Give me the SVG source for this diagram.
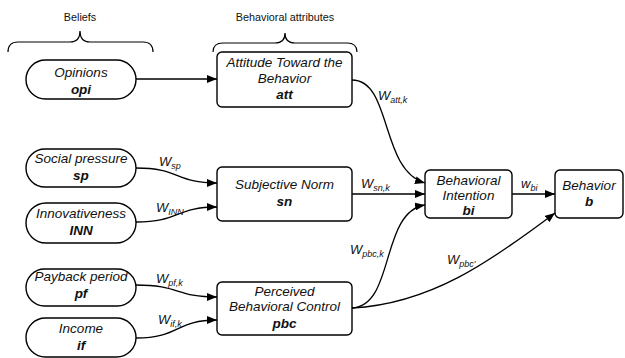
<svg xmlns="http://www.w3.org/2000/svg" width="625" height="358" viewBox="0 0 625 358">
<defs>
<marker id="ah" markerWidth="10" markerHeight="8" refX="10" refY="4" orient="auto" markerUnits="userSpaceOnUse">
<path d="M0,0 L10,4 L0,8 Z" fill="#000"/>
</marker>
<style>
.n{fill:#fff;stroke:#000;stroke-width:1.4}
.t{font-family:"Liberation Sans",Arial,sans-serif;font-size:13.5px;font-style:italic;text-anchor:middle;fill:#111}
.b{font-weight:bold}
.h{font-family:"Liberation Sans",Arial,sans-serif;font-size:10.8px;text-anchor:middle;fill:#111}
.c{fill:none;stroke:#000;stroke-width:1.3;marker-end:url(#ah)}
.br{fill:none;stroke:#000;stroke-width:1.2}
.w{font-family:"Liberation Sans",Arial,sans-serif;font-size:13px;font-style:italic;fill:#111}
.s{font-size:9px}
</style>
</defs>
<rect width="625" height="358" fill="#fff"/>
<g id="headers">
<text class="h" x="80" y="21">Beliefs</text>
<path class="br" d="M8,52 Q8,42 18,42 L70,42 Q80,42 80,31 Q80,42 90,42 L143,42 Q153,42 153,52"/>
<text class="h" x="285" y="21">Behavioral attributes</text>
<path class="br" d="M213,52 Q213,43 223,43 L275,43 Q285,43 285,33 Q285,43 295,43 L347,43 Q357,43 357,52"/>
</g>
<g id="opi">
<rect class="n" x="26" y="60" width="110" height="39" rx="19.5"/>
<text class="t" x="81" y="77">Opinions</text>
<text class="t b" x="81" y="94">opi</text>
</g>
<g id="sp">
<rect class="n" x="26" y="149" width="110" height="38" rx="19"/>
<text class="t" x="81" y="163">Social pressure</text>
<text class="t b" x="81" y="180">sp</text>
</g>
<g id="INN">
<rect class="n" x="26" y="203" width="110" height="40" rx="20"/>
<text class="t" x="81" y="218">Innovativeness</text>
<text class="t b" x="81" y="235">INN</text>
</g>
<g id="pf">
<rect class="n" x="26" y="269" width="110" height="37" rx="18.5"/>
<text class="t" x="81" y="281">Payback period</text>
<text class="t b" x="81" y="298">pf</text>
</g>
<g id="if">
<rect class="n" x="26" y="318" width="110" height="39" rx="19.5"/>
<text class="t" x="81" y="333">Income</text>
<text class="t b" x="81" y="350">if</text>
</g>
<g id="att">
<rect class="n" x="217" y="52" width="135" height="55" rx="5"/>
<text class="t" x="284.5" y="67">Attitude Toward the</text>
<text class="t" x="284.5" y="83">Behavior</text>
<text class="t b" x="284.5" y="99">att</text>
</g>
<g id="sn">
<rect class="n" x="217" y="167" width="135" height="54" rx="5"/>
<text class="t" x="284.5" y="189">Subjective Norm</text>
<text class="t b" x="284.5" y="206">sn</text>
</g>
<g id="pbc">
<rect class="n" x="217" y="282" width="135" height="53" rx="5"/>
<text class="t" x="284.5" y="296">Perceived</text>
<text class="t" x="284.5" y="311">Behavioral Control</text>
<text class="t b" x="284.5" y="328">pbc</text>
</g>
<g id="bi">
<rect class="n" x="425" y="170" width="87" height="48" rx="5"/>
<text class="t" x="468.5" y="185">Behavioral</text>
<text class="t" x="468.5" y="200">Intention</text>
<text class="t b" x="468.5" y="215">bi</text>
</g>
<g id="b">
<rect class="n" x="555" y="170" width="68" height="48" rx="5"/>
<text class="t" x="589" y="190">Behavior</text>
<text class="t b" x="589" y="206">b</text>
</g>
<g id="connectors">
<path class="c" d="M136,79 L217,79"/>
<path class="c" d="M136,168 C180,168 175,183 217,183"/>
<path class="c" d="M136,222 C180,222 175,207 217,207"/>
<path class="c" d="M136,285 C180,285 175,297 217,297"/>
<path class="c" d="M136,338 C180,338 175,320 217,320"/>
<path class="c" d="M352,80 C392,80 380,170 425,183"/>
<path class="c" d="M352,194 L425,194"/>
<path class="c" d="M352,308 C395,306 380,212 425,205"/>
<path class="c" d="M352,308 C430,304 490,262 555,213"/>
<path class="c" d="M512,194 L555,194"/>
</g>
<g id="labels">
<text class="w" x="378" y="100">W<tspan class="s" dy="3">att,k</tspan></text>
<text class="w" x="361" y="188">W<tspan class="s" dy="3">sn,k</tspan></text>
<text class="w" x="521" y="188">w<tspan class="s" dy="3">bi</tspan></text>
<text class="w" x="350" y="254">W<tspan class="s" dy="3">pbc,k</tspan></text>
<text class="w" x="447" y="264">W<tspan class="s" dy="3">pbc'</tspan></text>
<text class="w" x="159" y="166">W<tspan class="s" dy="3">sp</tspan></text>
<text class="w" x="156" y="212">W<tspan class="s" dy="3">INN</tspan></text>
<text class="w" x="156" y="283">W<tspan class="s" dy="3">pf,k</tspan></text>
<text class="w" x="158" y="324">W<tspan class="s" dy="3">if,k</tspan></text>
</g>
</svg>
